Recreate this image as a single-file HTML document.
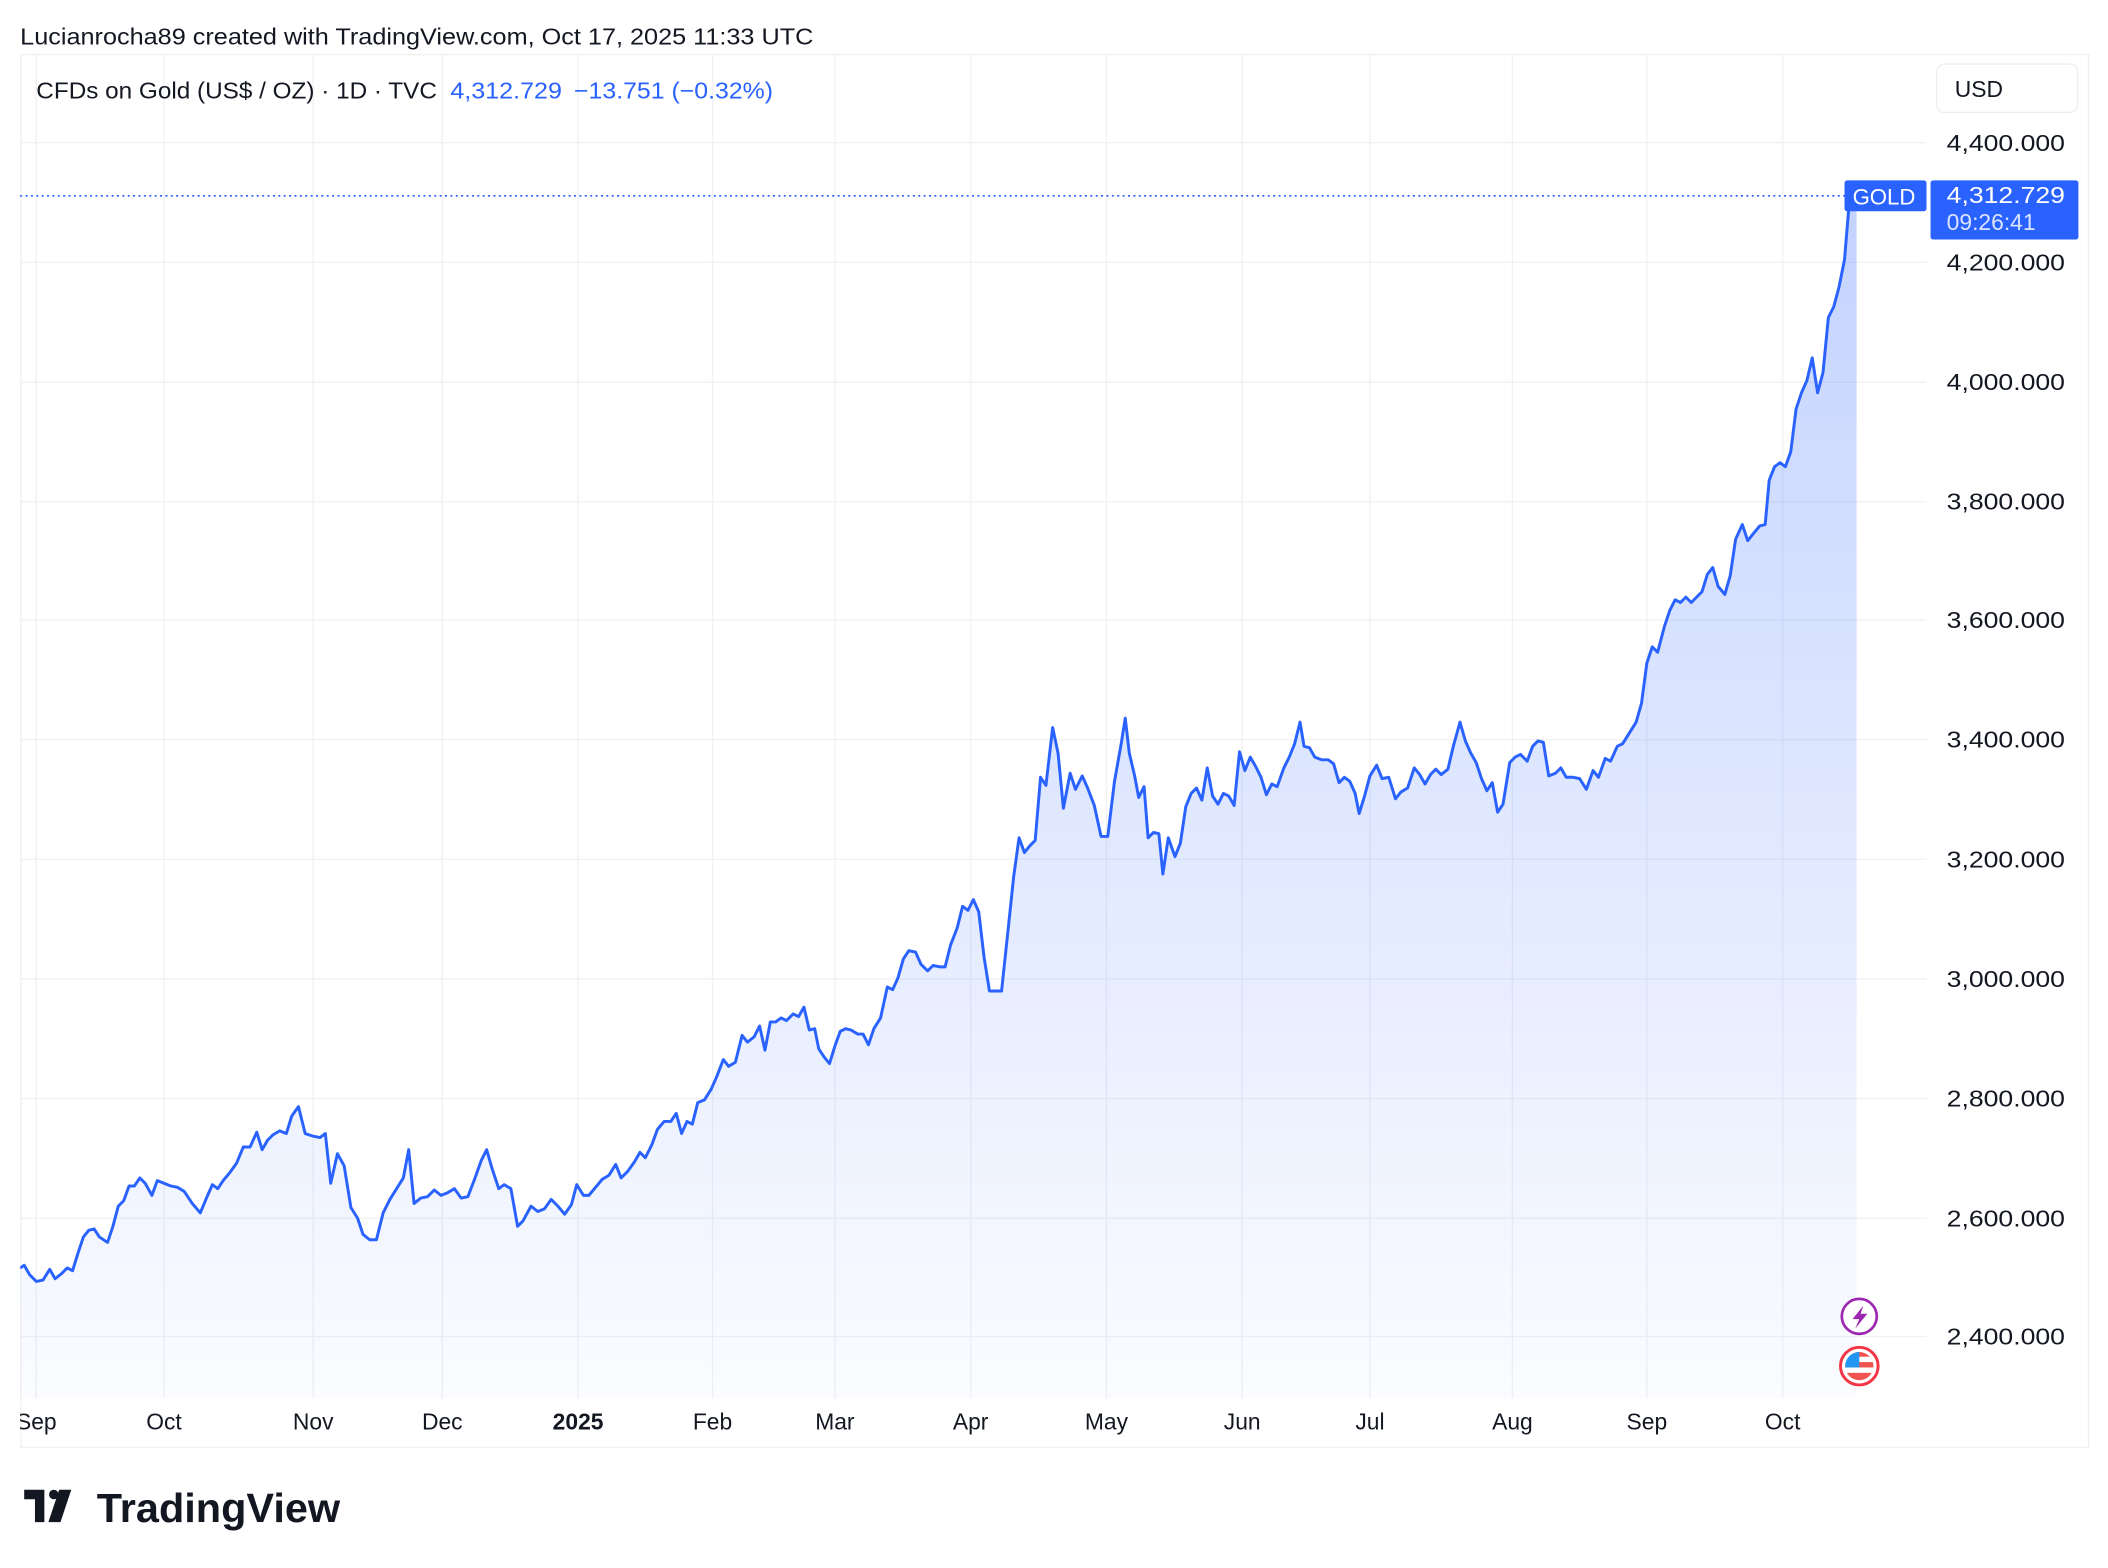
<!DOCTYPE html>
<html><head><meta charset="utf-8"><style>
html,body{margin:0;padding:0;background:#fff;}
svg{display:block;}
text{font-family:"Liberation Sans",sans-serif;}
</style></head><body>
<svg width="2108" height="1568" viewBox="0 0 1568 1166" xmlns="http://www.w3.org/2000/svg">
<defs>
<linearGradient id="g" x1="0" y1="0" x2="0" y2="1">
<stop offset="0" stop-color="#2962ff" stop-opacity="0.28"/>
<stop offset="1" stop-color="#2962ff" stop-opacity="0.02"/>
</linearGradient>
<clipPath id="c"><rect x="15" y="40" width="1418" height="1000"/></clipPath>
</defs>
<rect width="1568" height="1166" fill="#fff"/>
<text x="15" y="33" font-size="17" fill="#131722" textLength="590" lengthAdjust="spacingAndGlyphs">Lucianrocha89 created with TradingView.com, Oct 17, 2025 11:33 UTC</text>
<rect x="15.5" y="40.5" width="1538" height="1036" fill="none" stroke="#f0f0f0" stroke-width="1"/>
<g stroke="#f0f1f3" stroke-width="1">
<line x1="15" x2="1433" y1="106" y2="106"/><line x1="15" x2="1433" y1="195" y2="195"/><line x1="15" x2="1433" y1="284" y2="284"/><line x1="15" x2="1433" y1="373" y2="373"/><line x1="15" x2="1433" y1="461" y2="461"/><line x1="15" x2="1433" y1="550" y2="550"/><line x1="15" x2="1433" y1="639" y2="639"/><line x1="15" x2="1433" y1="728" y2="728"/><line x1="15" x2="1433" y1="817" y2="817"/><line x1="15" x2="1433" y1="906" y2="906"/><line x1="15" x2="1433" y1="994" y2="994"/>
<line x1="27" x2="27" y1="40" y2="1040"/><line x1="122" x2="122" y1="40" y2="1040"/><line x1="233" x2="233" y1="40" y2="1040"/><line x1="329" x2="329" y1="40" y2="1040"/><line x1="430" x2="430" y1="40" y2="1040"/><line x1="530" x2="530" y1="40" y2="1040"/><line x1="621" x2="621" y1="40" y2="1040"/><line x1="722" x2="722" y1="40" y2="1040"/><line x1="823" x2="823" y1="40" y2="1040"/><line x1="924" x2="924" y1="40" y2="1040"/><line x1="1019" x2="1019" y1="40" y2="1040"/><line x1="1125" x2="1125" y1="40" y2="1040"/><line x1="1225" x2="1225" y1="40" y2="1040"/><line x1="1326" x2="1326" y1="40" y2="1040"/>
</g>
<g clip-path="url(#c)">
<polygon id="area" fill="url(#g)" points=""/>
<polyline id="ln" fill="none" stroke="#2962ff" stroke-width="2.2" stroke-linejoin="round" points=""/>
</g>
<line x1="15" x2="1372" y1="145.5" y2="145.5" stroke="#2962ff" stroke-width="1.2" stroke-dasharray="1.5 2.5"/>
<text x="27" y="73" font-size="17" fill="#131722" textLength="298" lengthAdjust="spacingAndGlyphs">CFDs on Gold (US$ / OZ) · 1D · TVC</text>
<text x="335" y="73" font-size="17" fill="#2962ff" textLength="83" lengthAdjust="spacingAndGlyphs">4,312.729</text>
<text x="427" y="73" font-size="17" fill="#2962ff" textLength="148" lengthAdjust="spacingAndGlyphs">−13.751 (−0.32%)</text>
<rect x="1440.5" y="47.5" width="105" height="36" rx="6" fill="#fff" stroke="#eceef2"/>
<text x="1454" y="72" font-size="17" fill="#131722">USD</text>
<g font-size="17" fill="#131722">
<text x="1448" y="112" textLength="88" lengthAdjust="spacingAndGlyphs">4,400.000</text><text x="1448" y="201" textLength="88" lengthAdjust="spacingAndGlyphs">4,200.000</text><text x="1448" y="290" textLength="88" lengthAdjust="spacingAndGlyphs">4,000.000</text><text x="1448" y="379" textLength="88" lengthAdjust="spacingAndGlyphs">3,800.000</text><text x="1448" y="467" textLength="88" lengthAdjust="spacingAndGlyphs">3,600.000</text><text x="1448" y="556" textLength="88" lengthAdjust="spacingAndGlyphs">3,400.000</text><text x="1448" y="645" textLength="88" lengthAdjust="spacingAndGlyphs">3,200.000</text><text x="1448" y="734" textLength="88" lengthAdjust="spacingAndGlyphs">3,000.000</text><text x="1448" y="823" textLength="88" lengthAdjust="spacingAndGlyphs">2,800.000</text><text x="1448" y="912" textLength="88" lengthAdjust="spacingAndGlyphs">2,600.000</text><text x="1448" y="1000" textLength="88" lengthAdjust="spacingAndGlyphs">2,400.000</text>
</g>
<rect x="1372" y="134" width="61" height="23" rx="2" fill="#2962ff"/>
<text x="1378" y="152" font-size="16.5" fill="#fff">GOLD</text>
<rect x="1436" y="134" width="110" height="44" rx="2" fill="#2962ff"/>
<text x="1448" y="151" font-size="17" fill="#fff" textLength="88" lengthAdjust="spacingAndGlyphs">4,312.729</text>
<text x="1448" y="171" font-size="17" fill="#dbe4ff">09:26:41</text>
<g font-size="17" fill="#131722" text-anchor="middle">
<text x="27" y="1063">Sep</text><text x="122" y="1063">Oct</text><text x="233" y="1063">Nov</text><text x="329" y="1063">Dec</text><text x="430" y="1063" font-weight="bold">2025</text><text x="530" y="1063">Feb</text><text x="621" y="1063">Mar</text><text x="722" y="1063">Apr</text><text x="823" y="1063">May</text><text x="924" y="1063">Jun</text><text x="1019" y="1063">Jul</text><text x="1125" y="1063">Aug</text><text x="1225" y="1063">Sep</text><text x="1326" y="1063">Oct</text>
</g>
<rect x="0" y="1041" width="15" height="30" fill="#fff"/>
<circle cx="1383" cy="979" r="13" fill="#fff" stroke="#9c27b0" stroke-width="2"/>
<path d="M1386 971 L1378 981 L1383 981 L1380 988 L1389 977 L1384 977 Z" fill="#9c27b0"/>
<circle cx="1383" cy="1016" r="14" fill="#fff" stroke="#f23645" stroke-width="2.2"/>
<clipPath id="f"><circle cx="1383" cy="1016" r="10.5"/></clipPath>
<g clip-path="url(#f)"><rect x="1372" y="1005" width="22" height="22" fill="#fff"/>
<rect x="1372" y="1005" width="22" height="4" fill="#f05350"/><rect x="1372" y="1013" width="22" height="4" fill="#f05350"/><rect x="1372" y="1021" width="22" height="6" fill="#f05350"/>
<rect x="1372" y="1005" width="11" height="12" fill="#2196f3"/></g>
<g transform="translate(18,1108)">
<path d="M0 0 H15 V24 H8 V7 H0 Z" fill="#131722"/>
<circle cx="22" cy="3.5" r="3.5" fill="#131722"/>
<path d="M26 0 H35 L27 24 H18 Z" fill="#131722"/>
</g>
<text x="72" y="1132" font-size="30" font-weight="bold" fill="#131722" textLength="181" lengthAdjust="spacingAndGlyphs">TradingView</text>
<script>
var p=[[15,943],[18,941],[22,948],[27,953],[32,952],[37,944],[41,951],[46,947],[50,943],[54,945],[58,932],[62,920],[66,915],[70,914],[74,920],[80,924],[84,912],[88,897],[92,893],[96,882],[100,882],[104,876],[108,880],[113,889],[117,878],[122,880],[127,882],[132,883],[137,886],[143,895],[149,902],[154,890],[158,881],[162,884],[166,878],[171,872],[176,865],[181,853],[186,853],[191,842],[195,855],[199,848],[203,844],[208,841],[213,843],[217,830],[222,823],[227,843],[233,845],[238,846],[242,843],[246,880],[251,858],[256,867],[261,898],[266,906],[270,918],[275,922],[280,922],[285,902],[290,892],[295,884],[300,876],[304,855],[308,895],[313,891],[318,890],[323,885],[328,889],[333,887],[338,884],[343,891],[348,890],[353,877],[358,863],[362,855],[366,869],[371,884],[375,881],[380,884],[385,912],[389,908],[395,897],[400,901],[405,899],[410,892],[415,897],[420,903],[425,896],[429,881],[434,889],[438,889],[443,883],[448,877],[453,874],[458,866],[462,876],[467,871],[472,864],[476,857],[480,861],[485,851],[489,840],[494,834],[499,834],[503,828],[507,843],[511,834],[515,836],[519,820],[524,818],[529,810],[533,801],[538,788],[542,793],[547,790],[552,770],[556,775],[561,771],[565,763],[569,781],[573,760],[577,760],[581,757],[585,759],[590,754],[594,756],[598,749],[602,766],[606,765],[609,780],[613,786],[617,791],[621,778],[625,767],[629,765],[633,766],[638,769],[642,769],[646,777],[650,765],[655,757],[660,734],[664,736],[668,727],[672,713],[676,707],[681,708],[685,717],[690,722],[694,718],[699,719],[703,719],[707,703],[712,690],[716,674],[720,677],[724,669],[728,678],[732,712],[736,737],[740,737],[745,737],[750,690],[754,652],[758,623],[762,634],[766,629],[770,625],[774,578],[778,584],[783,541],[787,560],[791,601],[796,575],[800,587],[805,577],[809,586],[814,599],[819,622],[824,622],[829,581],[834,553],[837,534],[840,560],[844,577],[847,593],[851,585],[854,623],[858,619],[862,620],[865,650],[869,623],[874,637],[878,627],[882,600],[886,590],[890,586],[894,595],[898,571],[902,592],[906,598],[910,590],[914,592],[918,599],[922,559],[926,573],[930,563],[934,570],[938,578],[942,591],[946,583],[950,585],[955,571],[959,563],[963,553],[967,537],[970,555],[974,556],[978,563],[983,565],[988,565],[992,568],[996,582],[1000,578],[1004,581],[1008,590],[1011,605],[1015,592],[1019,577],[1024,569],[1028,579],[1033,578],[1038,594],[1042,589],[1047,586],[1052,571],[1056,576],[1060,583],[1064,576],[1068,572],[1072,576],[1077,572],[1081,555],[1086,537],[1090,551],[1094,560],[1098,567],[1102,579],[1106,588],[1110,582],[1114,604],[1118,598],[1123,567],[1127,563],[1131,561],[1136,566],[1140,555],[1144,551],[1148,552],[1152,577],[1157,575],[1161,571],[1165,578],[1170,578],[1175,579],[1180,587],[1185,573],[1189,578],[1194,564],[1198,566],[1203,555],[1207,553],[1212,545],[1217,537],[1221,523],[1225,493],[1229,481],[1233,485],[1238,466],[1242,454],[1246,446],[1250,448],[1254,444],[1258,448],[1262,444],[1266,440],[1270,427],[1274,422],[1278,436],[1283,442],[1287,428],[1291,401],[1296,390],[1300,402],[1304,397],[1309,391],[1313,390],[1316,357],[1320,347],[1324,344],[1328,347],[1332,336],[1336,304],[1340,292],[1344,283],[1348,266],[1352,292],[1356,277],[1360,236],[1364,228],[1368,213],[1372,193],[1375,157],[1378,145],[1381,145]];
var s=p.map(function(q){return q.join(',')}).join(' ');
document.getElementById('ln').setAttribute('points',s);
document.getElementById('area').setAttribute('points',s+' 1381,1040 15,1040');
</script>
</svg>
</body></html>
